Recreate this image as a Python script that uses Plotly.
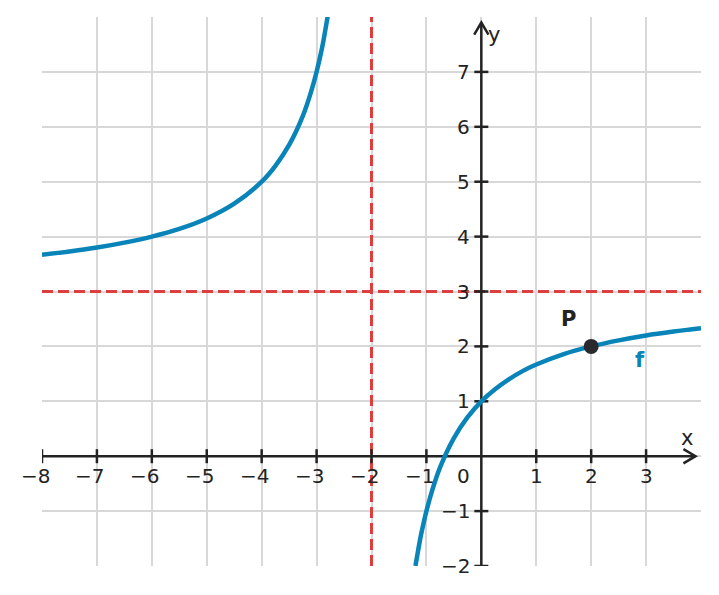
import plotly.graph_objects as go

# branch left of the vertical asymptote
left_x = [-8, -7.5, -7, -6.5, -6, -5.5, -5, -4.5, -4, -3.75, -3.5, -3.25, -3.1, -3, -2.9, -2.85, -2.8, -2.75]
left_y = [3.67, 3.73, 3.80, 3.89, 4.00, 4.14, 4.33, 4.60, 5.00, 5.29, 5.67, 6.20, 6.64, 7.00, 7.44, 7.71, 8.00, 8.33]

# branch right of the vertical asymptote
right_x = [-1.2, -1.15, -1.1, -1.05, -1.0, -0.9, -0.75, -0.5, -0.25, 0, 0.25, 0.5, 0.75, 1, 1.5, 2, 2.5, 3, 3.5, 4]
right_y = [-2.0, -1.71, -1.44, -1.21, -1.0, -0.64, -0.20, 0.33, 0.71, 1.0, 1.22, 1.40, 1.55, 1.67, 1.86, 2.0, 2.11, 2.20, 2.27, 2.33]

asym_x = -2
asym_y = 3
point_p = (2, 2)

x_ticks = [-8, -7, -6, -5, -4, -3, -2, -1, 1, 2, 3]
y_ticks = [-2, -1, 1, 2, 3, 4, 5, 6, 7]

x_range = [-8, 4]
y_range = [-2, 8]

blue = '#0884b9'
red = '#df3e3e'
dark = '#232323'

fig = go.Figure()

# asymptotes
fig.add_trace(go.Scatter(x=[asym_x, asym_x], y=y_range, mode='lines',
                         line=dict(color=red, width=3, dash='11px,5px'), hoverinfo='skip'))
fig.add_trace(go.Scatter(x=x_range, y=[asym_y, asym_y], mode='lines',
                         line=dict(color=red, width=3, dash='11px,5px'), hoverinfo='skip'))

# axes lines
x_tip = 3.9
y_tip = 7.9
fig.add_trace(go.Scatter(x=[x_range[0], x_tip], y=[0, 0], mode='lines',
                         line=dict(color=dark, width=2.5), hoverinfo='skip'))
fig.add_trace(go.Scatter(x=[0, 0], y=[y_range[0], y_tip], mode='lines',
                         line=dict(color=dark, width=2.5), hoverinfo='skip'))
# arrow heads (open chevrons)
fig.add_trace(go.Scatter(x=[x_tip - 0.22, x_tip, x_tip - 0.22], y=[0.13, 0, -0.13], mode='lines',
                         line=dict(color=dark, width=2.5), hoverinfo='skip'))
fig.add_trace(go.Scatter(x=[-0.13, 0, 0.13], y=[y_tip - 0.22, y_tip, y_tip - 0.22], mode='lines',
                         line=dict(color=dark, width=2.5), hoverinfo='skip'))

# tick marks
fig.add_trace(go.Scatter(x=x_ticks, y=[0] * len(x_ticks), mode='markers',
                         marker=dict(symbol='line-ns', size=10, line=dict(color=dark, width=2.5)),
                         hoverinfo='skip'))
fig.add_trace(go.Scatter(x=[0] * len(y_ticks), y=y_ticks, mode='markers',
                         marker=dict(symbol='line-ew', size=10, line=dict(color=dark, width=2.5)),
                         hoverinfo='skip'))

# function
fig.add_trace(go.Scatter(x=left_x, y=left_y, mode='lines', line=dict(color=blue, width=4.5, shape='spline')))
fig.add_trace(go.Scatter(x=right_x, y=right_y, mode='lines', line=dict(color=blue, width=4.5, shape='spline')))

# point P
fig.add_trace(go.Scatter(x=[point_p[0]], y=[point_p[1]], mode='markers',
                         marker=dict(color='#2a2a2e', size=15)))

font = dict(family='DejaVu Sans', size=20, color=dark)
annotations = []
for t in x_ticks:
    annotations.append(dict(x=t, y=0, text=str(t).replace('-', '\u2212'), showarrow=False,
                            font=font, yanchor='top', yshift=-6,
                            xshift=-7 if t < 0 else 0))
for t in y_ticks:
    annotations.append(dict(x=0, y=t, text=str(t).replace('-', '\u2212'), showarrow=False,
                            font=font, xanchor='right', xshift=-9))
annotations.append(dict(x=0, y=0, text='0', showarrow=False, font=font,
                        xanchor='right', yanchor='top', xshift=-9, yshift=-6))
annotations.append(dict(x=x_tip, y=0, text='x', showarrow=False, font=dict(family='DejaVu Sans', size=21, color=dark),
                        xanchor='center', yanchor='bottom', xshift=-9, yshift=4))
annotations.append(dict(x=0, y=y_tip, text='y', showarrow=False, font=dict(family='DejaVu Sans', size=21, color=dark),
                        xanchor='left', yanchor='middle', xshift=5, yshift=-13))
annotations.append(dict(x=point_p[0], y=point_p[1], text='<b>P</b>', showarrow=False,
                        font=dict(family='DejaVu Sans', size=21, color=dark), xshift=-23, yshift=27))
annotations.append(dict(x=point_p[0], y=point_p[1], text='<b>f</b>', showarrow=False,
                        font=dict(family='DejaVu Sans', size=21, color=blue), xshift=49, yshift=-14))

fig.update_layout(
    width=719, height=595,
    margin=dict(l=34, r=26, t=9, b=37),
    plot_bgcolor='white', paper_bgcolor='white',
    showlegend=False,
    annotations=annotations,
    xaxis=dict(range=x_range, dtick=1, tick0=0, showgrid=True, gridcolor='#d8d8d8', gridwidth=1.5,
               zeroline=False, showticklabels=False, ticks=''),
    yaxis=dict(range=y_range, dtick=1, tick0=0, showgrid=True, gridcolor='#d8d8d8', gridwidth=1.5,
               zeroline=False, showticklabels=False, ticks=''),
)

fig.write_html("out.html")
